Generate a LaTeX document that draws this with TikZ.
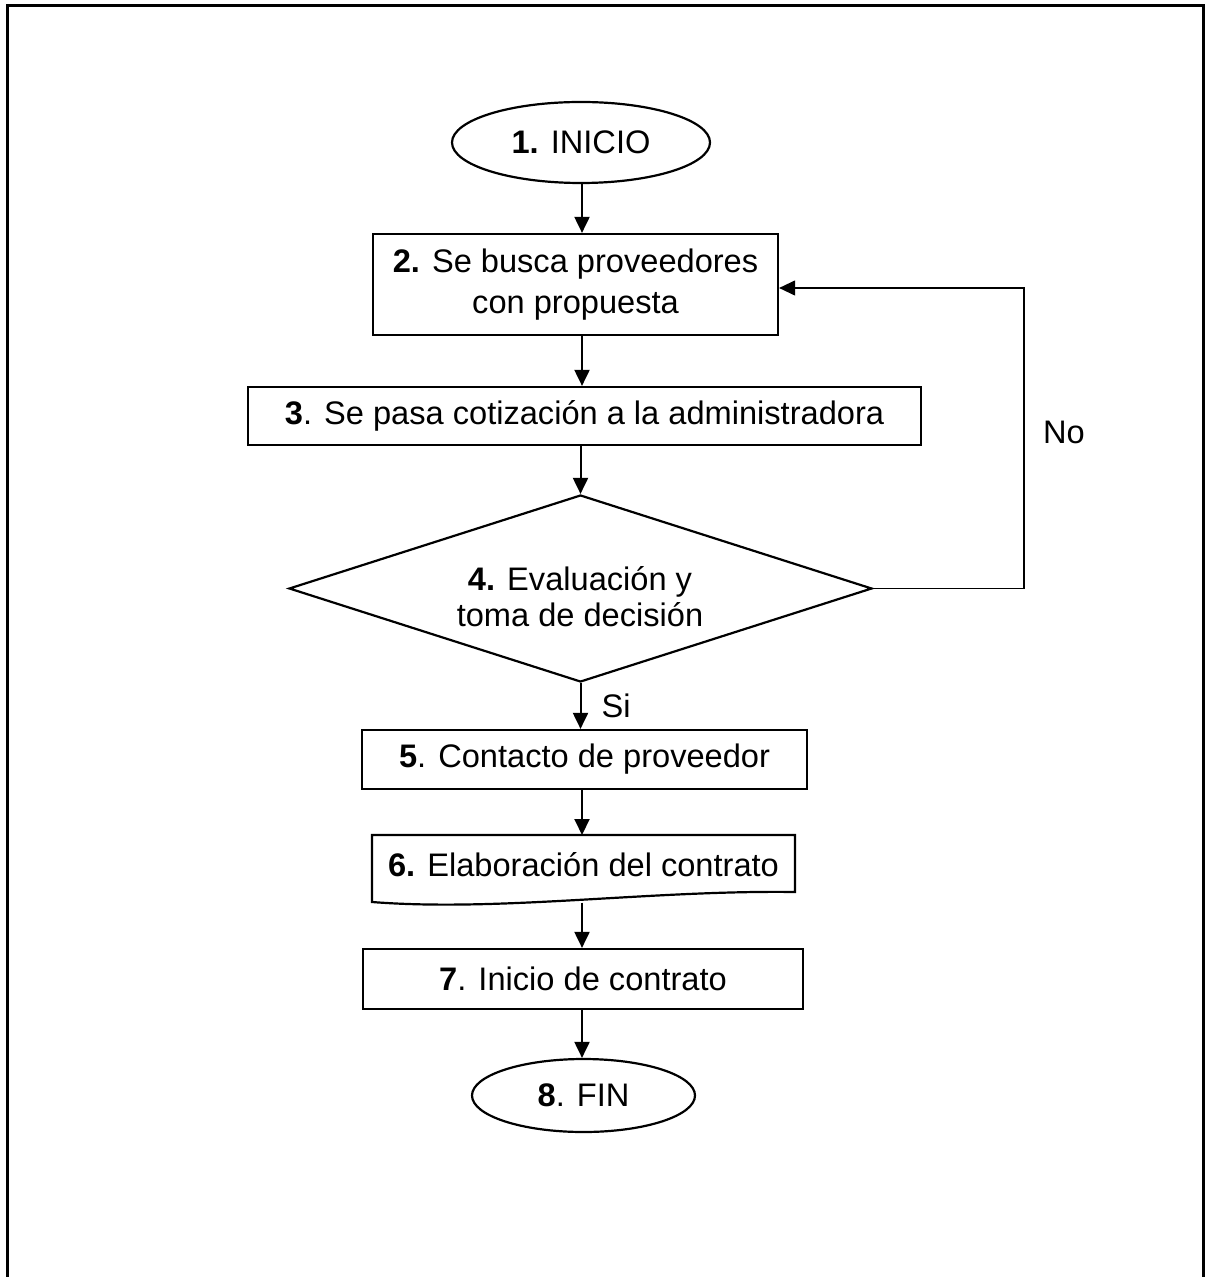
\documentclass[tikz,border=0pt]{standalone}
\usepackage{fontspec}
\setmainfont{Liberation Sans}
\usetikzlibrary{shapes.geometric,arrows.meta,calc}

\begin{document}
\begin{tikzpicture}[x=0.5pt,y=-0.5pt,
  every node/.style={font=\fontsize{16.3}{20.5}\selectfont, inner sep=0pt},
  box/.style={draw, line width=1.1pt, rectangle, align=center},
  term/.style={draw, line width=1.1pt, ellipse},
  arr/.style={line width=1pt, -{Triangle[length=8pt,width=7.5pt]}},
  loopline/.style={line width=0.6pt, -{Triangle[length=8pt,width=7.5pt]}},
]
\useasboundingbox (0,0) rectangle (1205,1277);

% page frame (open at the bottom)
\draw[line width=1.5pt] (7.5,1277) -- (7.5,6) -- (1203,6) -- (1203,1277);

% flow axis and loop column
\coordinate (ax) at (582,0);
\coordinate (lp) at (1024,288);

% steps
\node[term, minimum width=129pt, minimum height=40.5pt] (n1) at (581,142.5) {\textbf{1.} INICIO};
\node[box, minimum width=202.5pt, minimum height=50.5pt] (n2) at (575.5,284.5) {\textbf{2.} Se busca proveedores\\con propuesta};
\node[box, minimum width=336.5pt, minimum height=29pt] (n3) at (584.5,416) {\textbf{3}. Se pasa cotización a la administradora};
\node[draw, diamond, line width=1.1pt, minimum width=291.5pt, minimum height=93.5pt] (n4) at (580.5,588.5) {};
\node[align=center, font=\fontsize{16.3}{18}\selectfont] (t4) at (580,597) {\textbf{4.} Evaluación y\\toma de decisión};
\node[box, minimum width=222.5pt, minimum height=29.5pt] (n5) at (584.5,759.5) {\textbf{5}. Contacto de proveedor};

% document-shaped step 6
\draw[line width=1.1pt] (372,902) -- (372,835) -- (795,835) -- (795,892)
  .. controls (650,890) and (500,912) .. (372,902) -- cycle;
\node (n6) at (583.5,865) {\textbf{6.} Elaboración del contrato};
\coordinate (n6t) at (582,835);
\coordinate (n6b) at (582,902.5);

\node[box, minimum width=220pt, minimum height=30pt] (n7) at (583,979) {\textbf{7}. Inicio de contrato};
\node[term, minimum width=111.5pt, minimum height=36.5pt] (n8) at (583.5,1095.5) {\textbf{8}. FIN};

% connectors
\draw[arr] (n1.south -| ax) -- (n2.north -| ax);
\draw[arr] (n2.south -| ax) -- (n3.north -| ax);
\draw[arr] (n3.south -| n4.north) -- (n4.north);
\draw[arr] (n4.south) -- (n4.south |- n5.north);
\draw[arr] (n5.south -| ax) -- (n6t);
\draw[arr] (n6b) -- (n7.north -| ax);
\draw[arr] (n7.south -| ax) -- (n8.north -| ax);
\draw[loopline] (n4.east) -- (n4.east -| lp) -- (lp) -- (lp -| n2.east);

% branch labels
\node (si) at (616,706) {Si};
\node (no) at (1064,432) {No};
\end{tikzpicture}
\end{document}
